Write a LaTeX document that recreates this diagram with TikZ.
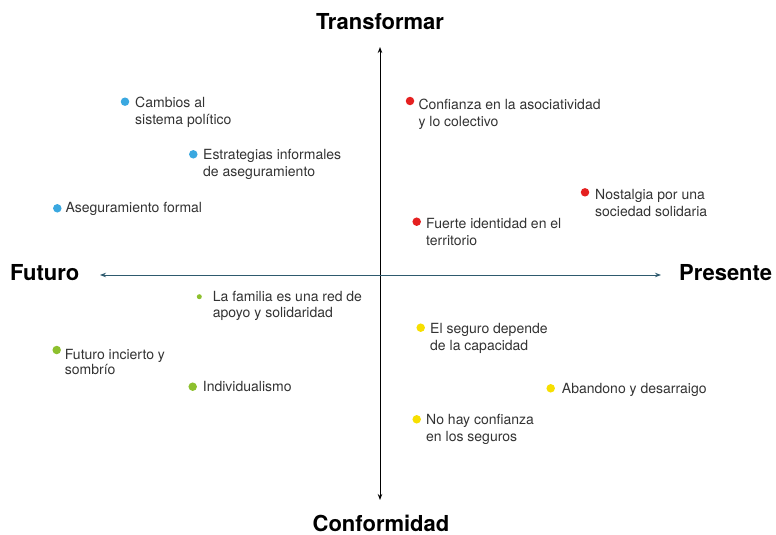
\documentclass[tikz,border=0pt]{standalone}
\usepackage{fontspec}
\setmainfont{TeX Gyre Heros}
\usetikzlibrary{arrows.meta}

\definecolor{ptblue}{RGB}{58,168,224}
\definecolor{ptred}{RGB}{229,32,32}
\definecolor{ptgreen}{RGB}{141,192,46}
\definecolor{ptyellow}{RGB}{247,223,0}
\definecolor{axisteal}{RGB}{46,90,110}
\definecolor{txtgray}{RGB}{51,51,51}

% lbl: placed at the baseline of its last line
\tikzset{
  dot/.style={circle, fill=#1, draw=none, inner sep=0pt, minimum size=8.5pt},
  lbl/.style={anchor=base west, align=left, inner sep=0pt, text=txtgray,
    font=\fontsize{14}{17}\selectfont},
  axlbl/.style={inner sep=0pt, font=\fontsize{22}{26}\selectfont\bfseries},
  tip/.style={{Stealth[length=6pt,width=4.5pt]}-{Stealth[length=6pt,width=4.5pt]}, line width=1pt}
}

\begin{document}
\begin{tikzpicture}[x=1pt, y=-1pt]
\useasboundingbox (0,0) rectangle (776,535);
\coordinate (top) at (380,47);
\coordinate (bot) at (380,500);
\coordinate (lft) at (100,275);
\coordinate (rgt) at (661,275);

 \draw[tip, color=black] (bot) -- (top);
 \draw[tip, color=axisteal] (lft) -- (rgt);

 \node[axlbl, anchor=base] (trans) at (380,30) {Transformar};
 \node[axlbl, anchor=base] (conf) at (381,531) {Conformidad};
 \node[axlbl, anchor=base west] (fut) at (10,280) {Futuro};
 \node[axlbl, anchor=base west] (pres) at (679,280) {Presente};

 % transformar - futuro
 \node[dot=ptblue] (cambios) at (125,101.7) {};
 \node[lbl] (cambiosT) at (135,124) {Cambios al\\sistema político};
 \node[dot=ptblue] (estrat) at (193.3,154.3) {};
 \node[lbl] (estratT) at (203,176) {Estrategias informales\\de aseguramiento};
 \node[dot=ptblue] (asegu) at (57.3,208.3) {};
 \node[lbl] (aseguT) at (65.3,212.5) {Aseguramiento formal};

 % transformar - presente
 \node[dot=ptred] (confi) at (410,101) {};
 \node[lbl] (confiT) at (418.3,126) {Confianza en la asociatividad\\y lo colectivo};
 \node[dot=ptred] (nostal) at (585,192.3) {};
 \node[lbl] (nostalT) at (595,216) {Nostalgia por una\\sociedad solidaria};
 \node[dot=ptred] (fuerte) at (416.7,221.7) {};
 \node[lbl] (fuerteT) at (426,245) {Fuerte identidad en el\\territorio};

 % conformidad - futuro
 \node[dot=ptgreen, minimum size=5pt] (familia) at (199.3,296.7) {};
 \node[lbl, font=\fontsize{14}{16}\selectfont] (familiaT) at (212.7,317) {La familia es una red de\\apoyo y solidaridad};
 \node[dot=ptgreen] (incierto) at (56.7,350) {};
 \node[lbl, font=\fontsize{14}{15.5}\selectfont] (inciertoT) at (64.7,374.5) {Futuro incierto y\\sombrío};
 \node[dot=ptgreen] (indiv) at (192.7,386.7) {};
 \node[lbl] (indivT) at (202.7,391) {Individualismo};

 % conformidad - presente
 \node[dot=ptyellow] (seguro) at (420.7,327.7) {};
 \node[lbl] (seguroT) at (430,350) {El seguro depende\\de la capacidad};
 \node[dot=ptyellow] (aband) at (550.7,388.3) {};
 \node[lbl] (abandT) at (561.7,393) {Abandono y desarraigo};
 \node[dot=ptyellow] (nohay) at (416.7,419.3) {};
 \node[lbl] (nohayT) at (426,441) {No hay confianza\\en los seguros};
\end{tikzpicture}
\end{document}
